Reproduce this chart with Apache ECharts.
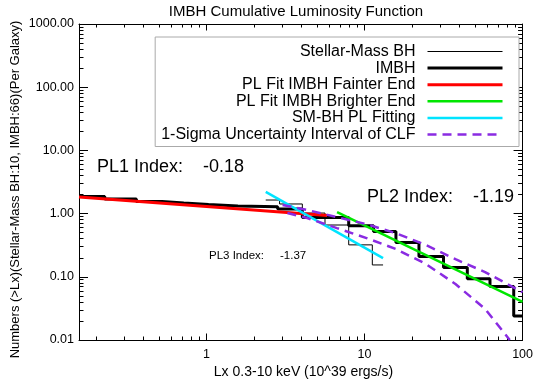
<!DOCTYPE html>
<html>
<head>
<meta charset="utf-8">
<script src="https://cdn.jsdelivr.net/npm/echarts@6/dist/echarts.min.js"></script>
<style>
  html, body { margin: 0; padding: 0; background: #fff; }
  #chart { width: 536px; height: 381px; }
</style>
</head>
<body>
<div id="chart"></div>
<script>
// axis ranges (data units, both axes are log)
const xRange = [0.156, 100]
const yRange = [0.01, 1000]
const xMajor = [1, 10, 100]
const yMajor = [0.01, 0.1, 1, 10, 100, 1000]

// IMBH cumulative counts: bin edges + level in each bin
const imbhEdges = [0.156, 0.227, 0.36, 0.524, 0.718, 1.03, 1.58, 2.82, 4.04, 7.94, 11.4, 15.8, 22.1, 31.6, 44.7, 62.2, 87.9, 100]
const imbhLevels = [1.86, 1.70, 1.55, 1.47, 1.39, 1.32, 1.28, 1.18, 0.87, 0.64, 0.52, 0.35, 0.21, 0.14, 0.093, 0.070, 0.024]

// stellar-mass BH cumulative counts
const smEdges = [2.37, 2.90, 4.04, 5.62, 7.94, 11.2, 13.1]
const smLevels = [1.64, 1.42, 1.02, 0.66, 0.32, 0.154]

// power law fits (end points)
const plFaint = [[0.156, 1.83], [5.8, 0.93]]
const plBright = [[6.7, 1.06], [100, 0.040]]
const plSM = [[2.37, 2.2], [13.1, 0.198]]

// 1-sigma band of the CLF
const sigmaUpper = [[3.03, 1.37], [4.34, 1.14], [6.68, 0.88], [10.3, 0.68], [15.8, 0.49], [24.4, 0.32], [37.6, 0.19], [57.9, 0.119], [100, 0.057]]
const sigmaLower = [[3.25, 1.02], [4.34, 0.85], [6.68, 0.59], [10.3, 0.41], [15.8, 0.275], [24.4, 0.16], [37.6, 0.077], [57.9, 0.031], [83, 0.01]]

const FONT = '"Liberation Sans", Arial, sans-serif'

const lg = (pts) => pts.map((p) => [Math.log10(p[0]), Math.log10(p[1])])
const stairs = (edges, levels) =>
  edges.map((x, i) => [x, levels[Math.min(i, levels.length - 1)]])

function minorTicks(range) {
  const out = []
  for (let e = Math.floor(Math.log10(range[0])); e < Math.ceil(Math.log10(range[1])); e++) {
    for (let k = 2; k <= 9; k++) {
      const v = k * Math.pow(10, e)
      if (v > range[0] && v < range[1]) out.push(Math.log10(v))
    }
  }
  return out
}

// one axis = one set of ticks; IDL style box with inward ticks on all sides
function makeAxis(position, range, ticks, len, main, labelled, fmt) {
  return {
    type: 'value',
    position: position,
    min: Math.log10(range[0]),
    max: Math.log10(range[1]),
    axisLine: { show: main, onZero: false, lineStyle: { color: '#000', width: 1 } },
    axisTick: {
      show: true,
      inside: true,
      length: len,
      customValues: ticks,
      lineStyle: { color: '#000', width: 1 }
    },
    axisLabel: {
      show: labelled,
      customValues: ticks,
      formatter: fmt,
      color: '#000',
      fontSize: 12.5,
      fontFamily: FONT,
      margin: position === 'bottom' ? 8 : 5,
      showMinLabel: true,
      showMaxLabel: true
    },
    splitLine: { show: false }
  }
}

const xMaj = xMajor.map(Math.log10)
const yMaj = yMajor.map(Math.log10)
const xMin = minorTicks(xRange)
const yMin = minorTicks(yRange)
const xFmt = (v) => String(Math.round(Math.pow(10, v)))
const yFmt = (v) => Math.pow(10, v).toFixed(2)

const lineSeries = (name, data, color, width, dash, step) => ({
  name: name,
  type: 'line',
  data: lg(data),
  step: step || false,
  symbol: 'none',
  showSymbol: false,
  silent: true,
  animation: false,
  lineStyle: { color: color, width: width, type: dash || 'solid' },
  itemStyle: { color: color }
})

const text = (x, y, str, size, align, rotation) => ({
  type: 'text',
  x: x,
  y: y,
  rotation: rotation || 0,
  silent: true,
  style: {
    text: str,
    fill: '#000',
    font: size + 'px ' + FONT,
    textAlign: align || 'left',
    align: align || 'left',
    textVerticalAlign: 'middle',
    verticalAlign: 'middle'
  }
})

const chart = echarts.init(document.getElementById('chart'))

chart.setOption({
  backgroundColor: '#fff',
  animation: false,
  grid: { left: 79, right: 8, top: 24, bottom: 41 },
  xAxis: [
    makeAxis('bottom', xRange, xMaj, 6.5, true, true, xFmt),
    makeAxis('bottom', xRange, xMin, 3.5, false, false),
    makeAxis('top', xRange, xMaj, 6.5, true, false),
    makeAxis('top', xRange, xMin, 3.5, false, false)
  ],
  yAxis: [
    makeAxis('left', yRange, yMaj, 9, true, true, yFmt),
    makeAxis('left', yRange, yMin, 4.5, false, false),
    makeAxis('right', yRange, yMaj, 9, true, false),
    makeAxis('right', yRange, yMin, 4.5, false, false)
  ],
  legend: {
    orient: 'vertical',
    right: 17,
    top: 37,
    align: 'right',
    itemWidth: 75,
    itemHeight: 15,
    itemGap: 0.6,
    padding: [6.5, 15, 4, 6],
    borderColor: '#aaa',
    borderWidth: 1,
    backgroundColor: '#fff',
    selectedMode: false,
    itemStyle: { opacity: 0 },
    lineStyle: { width: 'inherit' },
    textStyle: { fontSize: 16, color: '#000', fontFamily: FONT, lineHeight: 15, padding: [0, 7, 0, 0] },
    data: [
      'Stellar-Mass BH',
      'IMBH',
      'PL Fit IMBH Fainter End',
      'PL Fit IMBH Brighter End',
      'SM-BH PL Fitting',
      '1-Sigma Uncertainty Interval of CLF'
    ]
  },
  series: [
    lineSeries('Stellar-Mass BH', stairs(smEdges, smLevels), '#000', 1, null, 'end'),
    lineSeries('IMBH', stairs(imbhEdges, imbhLevels), '#000', 3, null, 'end'),
    lineSeries('PL Fit IMBH Fainter End', plFaint, '#ff0000', 3),
    lineSeries('PL Fit IMBH Brighter End', plBright, '#00e600', 2.5),
    lineSeries('SM-BH PL Fitting', plSM, '#00e4ff', 2.5),
    lineSeries('1-Sigma Uncertainty Interval of CLF', sigmaUpper, '#8a2be2', 2.5, [9, 6]),
    lineSeries('1-Sigma Uncertainty Interval of CLF', sigmaLower, '#8a2be2', 2.5, [9, 6])
  ],
  graphic: [
    text(296, 12, 'IMBH Cumulative Luminosity Function', 15, 'center'),
    text(15, 189.5, 'Numbers (>Lx)(Stellar-Mass BH:10, IMBH:66)(Per Galaxy)', 13, 'center', Math.PI / 2),
    text(303.5, 372, 'Lx 0.3-10 keV (10^39 ergs/s)', 14, 'center'),
    text(97, 167, 'PL1 Index:    -0.18', 18),
    text(367, 197, 'PL2 Index:    -1.19', 18),
    text(209, 256, 'PL3 Index:     -1.37', 11.5)
  ]
})
</script>
</body>
</html>
